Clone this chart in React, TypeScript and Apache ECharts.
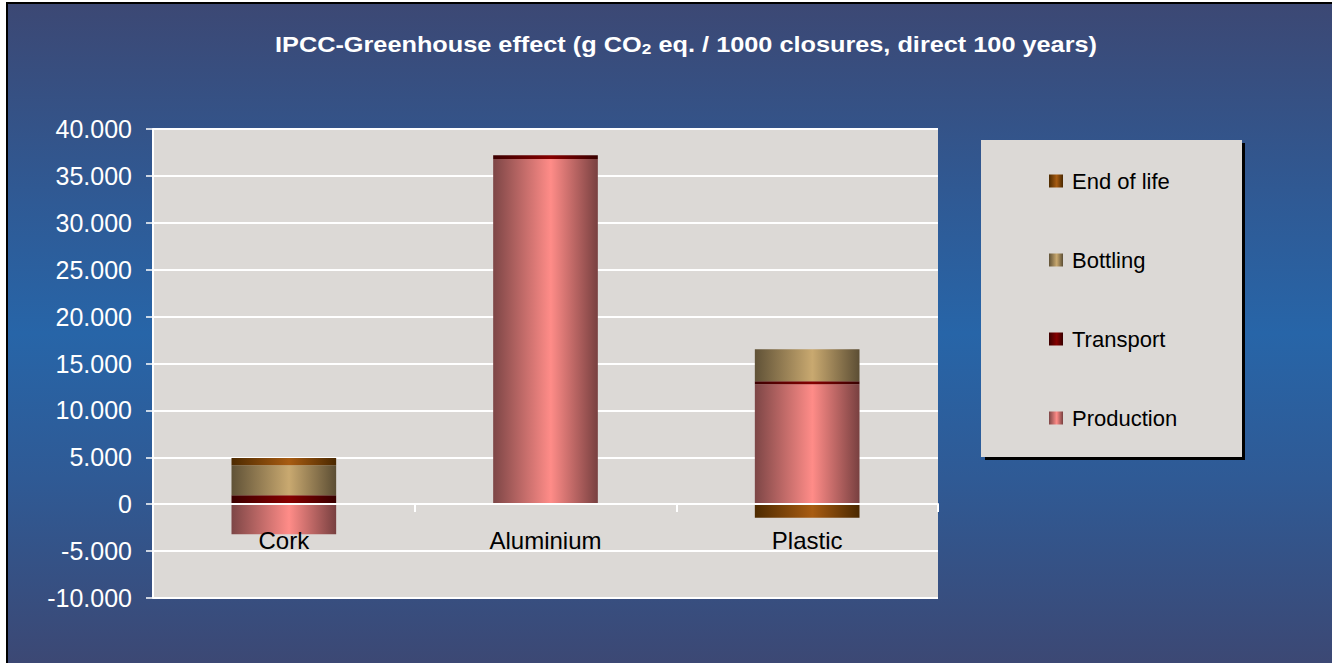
import React, { useEffect, useRef } from "react";
import * as echarts from "echarts";

const categories = ["Cork", "Aluminium", "Plastic"];
const production = [-3200, 36800, 12800];
const transport = [950, 400, 320];
const bottling = [3200, 0, 3400];
const endOfLife = [780, 0, -1450];
const legendOrder = ["End of life", "Bottling", "Transport", "Production"];

const FONT = "'Liberation Sans', Arial, sans-serif";

function fmt(v: number): string {
  const neg = v < 0;
  const a = Math.abs(v);
  let s = String(Math.round(a));
  s = s.replace(/\B(?=(\d{3})+(?!\d))/g, ".");
  return (neg ? "-" : "") + s;
}

function grad(edgeL: string, mid: string, edgeR: string) {
  return new echarts.graphic.LinearGradient(0, 0, 1, 0, [
    { offset: 0, color: edgeL },
    { offset: 0.55, color: mid },
    { offset: 1, color: edgeR },
  ]);
}

export default function App() {
  const ref = useRef<HTMLDivElement>(null);
  useEffect(() => {
    if (!ref.current) return;
    const chart = echarts.init(ref.current, undefined, { renderer: "svg" });
    const mk = (name: string, data: number[], color: any) => ({
      name,
      type: "bar",
      stack: "total",
      data,
      barWidth: "40%",
      itemStyle: { color },
      emphasis: { disabled: true },
    });
    chart.setOption({
      animation: false,
      textStyle: { fontFamily: FONT },
      grid: {
        left: 153,
        top: 129,
        right: 394,
        bottom: 65,
        show: true,
        backgroundColor: "#dcd9d6",
        borderWidth: 0,
      },
      graphic: [
        {
          type: "rect",
          z: 1,
          shape: { x: 985, y: 143, width: 260, height: 317 },
          style: { fill: "#000000" },
        },
        {
          type: "rect",
          z: 1,
          shape: { x: 981, y: 140, width: 261, height: 317 },
          style: { fill: "#dcd9d6" },
        },
        {
          type: "text",
          z: 5,
          x: 686,
          y: 34,
          scaleX: 1.15,
          style: {
            text: "{m|IPCC-Greenhouse effect (g CO}{s|2}{m| eq. / 1000 closures, direct 100 years)}",
            align: "center",
            verticalAlign: "top",
            rich: {
              m: {
                fontSize: 22,
                fontWeight: "bold",
                fontFamily: FONT,
                fill: "#ffffff",
                color: "#ffffff",
                lineHeight: 22,
              },
              s: {
                fontSize: 15,
                fontWeight: "bold",
                fontFamily: FONT,
                fill: "#ffffff",
                color: "#ffffff",
                lineHeight: 8,
                verticalAlign: "bottom",
              },
            },
          },
        },
      ],
      legend: {
        orient: "vertical",
        left: 1049,
        top: 170,
        padding: 0,
        icon: "rect",
        itemWidth: 14,
        itemHeight: 13,
        itemGap: 57,
        data: legendOrder,
        textStyle: {
          fontSize: 22,
          lineHeight: 22,
          color: "#000000",
          fontFamily: FONT,
          padding: [0, 0, 0, 4],
        },
        selectedMode: false,
      },
      xAxis: {
        type: "category",
        data: categories,
        z: 3,
        position: "bottom",
        offset: -94,
        axisLine: { show: true, onZero: false, lineStyle: { color: "#ffffff", width: 2 } },
        axisTick: {
          show: true,
          length: 8,
          interval: 0,
          alignWithLabel: false,
          lineStyle: { color: "#ffffff", width: 2 },
        },
        axisLabel: { color: "#000000", fontSize: 24, margin: 24, fontFamily: FONT },
        splitLine: { show: false },
      },
      yAxis: {
        type: "value",
        min: -10000,
        max: 40000,
        interval: 5000,
        axisLine: { show: true, lineStyle: { color: "#ffffff", width: 2 } },
        axisTick: { show: true, length: 7, lineStyle: { color: "#ffffff", width: 1.5 } },
        axisLabel: {
          color: "#ffffff",
          fontSize: 25,
          margin: 21,
          fontFamily: FONT,
          formatter: (v: number) => fmt(v),
        },
        splitLine: { show: true, lineStyle: { color: "#ffffff", width: 2 } },
      },
      series: [
        mk("Production", production, grad("#7d4646", "#ff8c88", "#784040")),
        mk("Transport", transport, grad("#3c0000", "#860000", "#380000")),
        mk("Bottling", bottling, grad("#605237", "#c9a970", "#5c4e34")),
        mk("End of life", endOfLife, grad("#4d2a00", "#a85c12", "#4a2800")),
      ],
    });
    return () => chart.dispose();
  }, []);
  return (
    <div style={{ position: "absolute", left: 0, top: 0, width: 1332, height: 663, background: "#ffffff", overflow: "hidden" }}>
      <div
        style={{
          position: "absolute",
          left: 6,
          top: 2,
          width: 1326,
          height: 661,
          boxSizing: "border-box",
          borderLeft: "2px solid #000",
          borderTop: "2px solid #000",
          background: "linear-gradient(to bottom, #3c4874 0%, #2f5a95 30%, #2765a8 50%, #2f5a95 72%, #3c4874 100%)",
        }}
      />
      <div ref={ref} style={{ position: "absolute", left: 0, top: 0, width: 1332, height: 663 }} />
    </div>
  );
}
